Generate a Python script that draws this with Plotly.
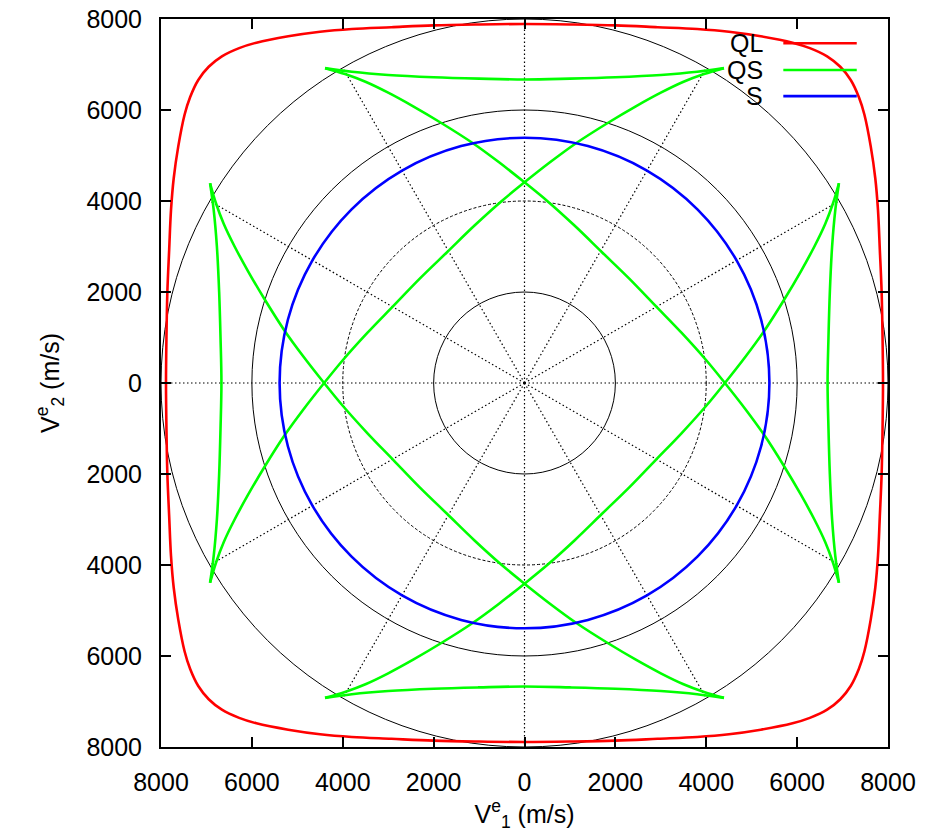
import numpy as np
import plotly.graph_objects as go

# ---- wave-surface readings (m/s) ----
# QL surface, first octant: from the V1 axis up to the diagonal
QL_V1 = [7890, 7880, 7860, 7820, 7780, 7720, 7620, 7480, 7360, 7180, 6950]
QL_V2 = [0, 1000, 2000, 2930, 3800, 4500, 5200, 5900, 6280, 6660, 6950]

# QS lens arc: from the V2 axis out to the cusp
QS_LENS_V1 = [0, 1000, 2000, 3000, 3800, 4390]
QS_LENS_V2 = [6670, 6690, 6720, 6770, 6840, 6920]

# QS outer branch: from the cusp down to the V2 axis
QS_OUTER_V1 = [4390, 3950, 3500, 3000, 2450, 1840, 1150, 560, 0]
QS_OUTER_V2 = [6920, 6790, 6620, 6380, 6080, 5720, 5280, 4850, 4410]

# QS inner branch: from the V2 axis to the diagonal
QS_INNER_V1 = [0, 500, 1100, 1700, 2300]
QS_INNER_V2 = [4410, 4000, 3460, 2880, 2300]

# S surface, polar readings over the first octant
S_ANGLE_DEG = [0, 15, 30, 45]
S_RADIUS = [5390, 5390, 5390, 5390]

# ---- axes ----
TICK_VALUES = [-8000, -6000, -4000, -2000, 0, 2000, 4000, 6000, 8000]
TICK_TEXT = ["8000", "6000", "4000", "2000", "0", "2000", "4000", "6000", "8000"]
GRID_RADII = [2000, 4000, 6000, 8000]
SPOKE_ANGLES = list(range(0, 360, 30))

SERIES = ["QL", "QS", "S"]
COLORS = {"QL": "#ff0000", "QS": "#00ff00", "S": "#0000ff"}


def rot90(x, y):
    return -y, x


def octant_to_closed(x, y):
    """Octant (axis -> diagonal) to a closed curve using the cubic symmetry."""
    x, y = np.asarray(x, float), np.asarray(y, float)
    qx = np.concatenate([x, y[::-1][1:]])
    qy = np.concatenate([y, x[::-1][1:]])
    xs, ys = [], []
    cx, cy = qx, qy
    for _ in range(4):
        xs.append(cx[:-1])
        ys.append(cy[:-1])
        cx, cy = rot90(cx, cy)
    X = np.concatenate(xs)
    Y = np.concatenate(ys)
    return np.append(X, X[0]), np.append(Y, Y[0])


def four_rotations(x, y):
    xs, ys = [], []
    cx, cy = np.asarray(x, float), np.asarray(y, float)
    for _ in range(4):
        xs += list(cx) + [None]
        ys += list(cy) + [None]
        cx, cy = rot90(cx, cy)
    return xs, ys


# QL closed surface
ql_x, ql_y = octant_to_closed(QL_V1, QL_V2)

# S closed surface
ang = np.radians(S_ANGLE_DEG)
s_x, s_y = octant_to_closed(np.array(S_RADIUS) * np.cos(ang),
                            np.array(S_RADIUS) * np.sin(ang))

# QS lens arcs (one per axis)
lx = np.asarray(QS_LENS_V1, float)
ly = np.asarray(QS_LENS_V2, float)
lens_x = np.concatenate([-lx[::-1], lx[1:]])
lens_y = np.concatenate([ly[::-1], ly[1:]])
lens_X, lens_Y = four_rotations(lens_x, lens_y)

# QS long branches: cusp -> V2 axis -> diagonal -> V1 axis -> cusp
ox, oy = np.asarray(QS_OUTER_V1, float), np.asarray(QS_OUTER_V2, float)
ix, iy = np.asarray(QS_INNER_V1, float), np.asarray(QS_INNER_V2, float)
half_x = np.concatenate([ox, -ix[1:]])
half_y = np.concatenate([oy, iy[1:]])
# reflection across the line V2 = -V1
rx, ry = -half_y[::-1], -half_x[::-1]
branch_x = np.concatenate([half_x, rx[1:]])
branch_y = np.concatenate([half_y, ry[1:]])
br_X, br_Y = four_rotations(branch_x, branch_y)

qs_x = lens_X + br_X
qs_y = lens_Y + br_Y

fig = go.Figure()

line_w = 2.6
fig.add_trace(go.Scatter(x=ql_x, y=ql_y, mode="lines", name=SERIES[0],
                         line=dict(color=COLORS["QL"], width=line_w, shape="spline", smoothing=1.0)))
fig.add_trace(go.Scatter(x=qs_x, y=qs_y, mode="lines", name=SERIES[1],
                         line=dict(color=COLORS["QS"], width=line_w, shape="spline", smoothing=1.0)))
fig.add_trace(go.Scatter(x=s_x, y=s_y, mode="lines", name=SERIES[2],
                         line=dict(color=COLORS["S"], width=line_w, shape="spline", smoothing=1.0)))

shapes = []
# polar grid: circles
for r in GRID_RADII:
    shapes.append(dict(type="circle", xref="x", yref="y", x0=-r, y0=-r, x1=r, y1=r,
                       line=dict(color="black", width=1,
                                 dash="3px,2px" if r == 4000 else "solid"),
                       layer="below"))
# polar grid: spokes
rmax = GRID_RADII[-1]
for a in SPOKE_ANGLES:
    t = np.radians(a)
    shapes.append(dict(type="line", xref="x", yref="y", x0=0, y0=0,
                       x1=rmax * np.cos(t), y1=rmax * np.sin(t),
                       line=dict(color="black", width=1.2, dash="1.5px,2.5px"),
                       layer="below"))

# key: right-aligned labels with line samples
key_y = [0.9666, 0.930, 0.894]
annotations = []
for name, ky in zip(SERIES, key_y):
    annotations.append(dict(x=0.831, y=ky, xref="paper", yref="paper", text=name,
                            showarrow=False, xanchor="right", yanchor="middle",
                            font=dict(size=25, color="black")))
    shapes.append(dict(type="line", xref="paper", yref="paper", x0=0.856, x1=0.957,
                       y0=ky, y1=ky, line=dict(color=COLORS[name], width=line_w)))

axis_common = dict(range=[-8000, 8000], tickvals=TICK_VALUES, ticktext=TICK_TEXT,
                   showgrid=False, zeroline=False, showline=True, mirror="ticks",
                   linecolor="black", linewidth=2, ticks="inside", ticklen=10,
                   tickwidth=1.5, tickcolor="black", automargin=False,
                   tickfont=dict(size=25, color="black"))

fig.update_layout(
    width=931, height=833,
    margin=dict(l=161, r=43, t=19, b=86, autoexpand=False),
    paper_bgcolor="white", plot_bgcolor="white",
    font=dict(family="Liberation Sans, Arial, sans-serif", color="black"),
    showlegend=False,
    xaxis=dict(axis_common, ticklabelstandoff=12,
               title=dict(text="V<sup>e</sup><sub>1</sub> (m/s)", font=dict(size=25), standoff=4)),
    yaxis=dict(axis_common, ticklabelstandoff=12,
               title=dict(text="V<sup>e</sup><sub>2</sub> (m/s)", font=dict(size=25), standoff=20)),
    shapes=shapes,
    annotations=annotations,
)

fig.write_html("out.html")
